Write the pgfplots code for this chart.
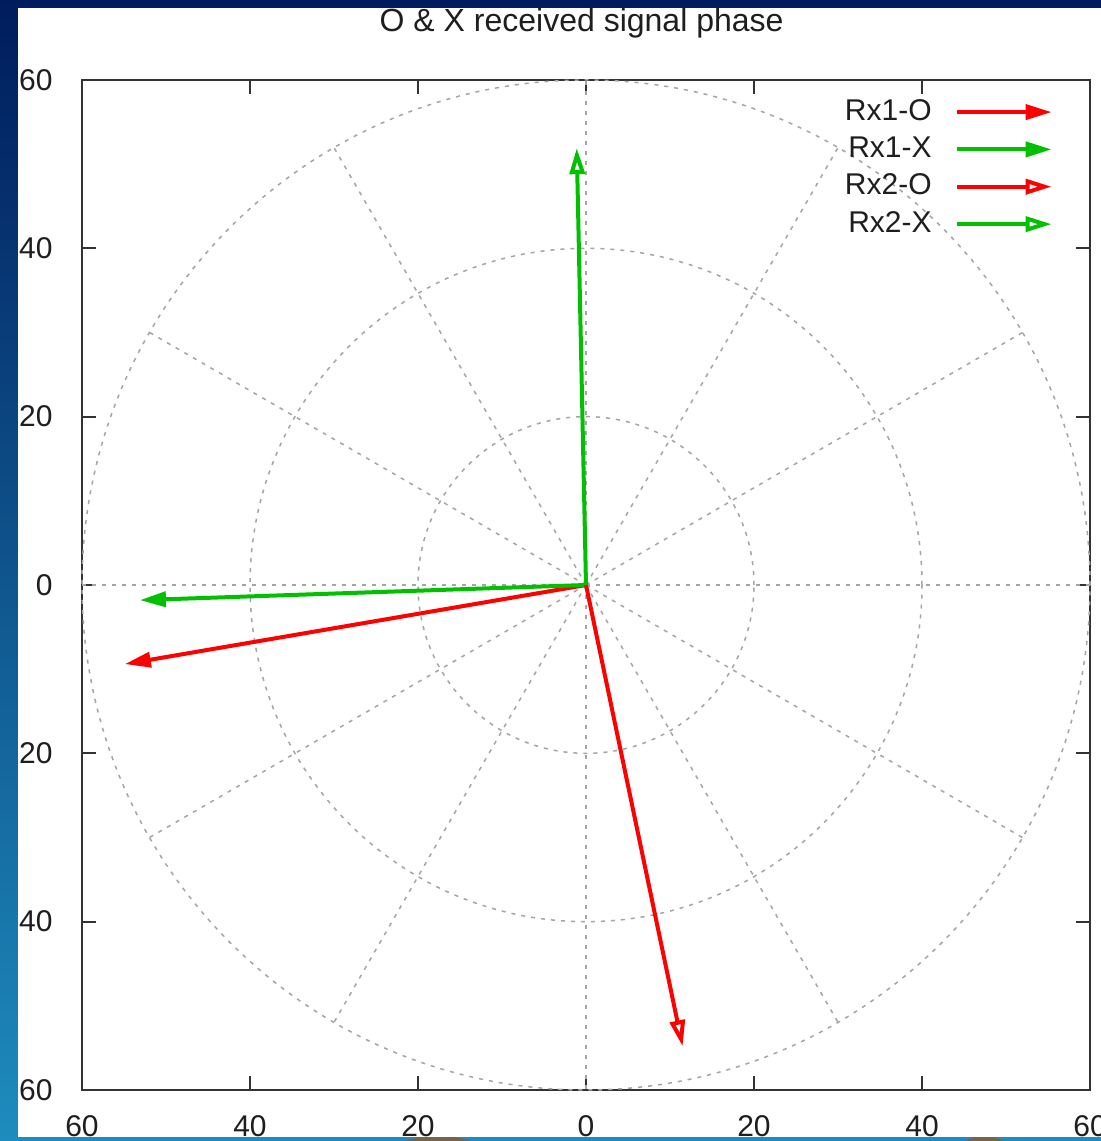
\documentclass[border=0pt]{standalone}
\usepackage{fontspec}
\setmainfont{Liberation Sans}
\usepackage{pgfplots}
\pgfplotsset{compat=1.18}
\usetikzlibrary{arrows.meta}
\definecolor{gpred}{RGB}{255,0,0}
\definecolor{gpgreen}{RGB}{0,192,0}
\definecolor{gridgray}{RGB}{165,165,165}
\definecolor{bgtop}{RGB}{0,28,92}
\definecolor{bgmid}{RGB}{0,52,150}
\definecolor{bgbot}{RGB}{30,140,190}
\definecolor{blob}{RGB}{120,100,70}
\definecolor{txt}{RGB}{30,30,30}
\begin{document}
\fontsize{15pt}{18pt}\selectfont
\begin{tikzpicture}
\useasboundingbox (0,0) rectangle (550.5pt,570.5pt);
\clip (0,0) rectangle (550.5pt,570.5pt);
\shade[top color=bgtop, middle color=bgmid, bottom color=bgbot] (0,0) rectangle (550.5pt,570.5pt);
\fill[bgbot] (0,0) rectangle (550.5pt,2pt);
\fill[blob] (202pt,0pt) -- (210pt,2pt) -- (228pt,2pt) -- (235pt,0pt) -- cycle;
\fill[blob] (482pt,0pt) -- (487pt,2pt) -- (497pt,2pt) -- (502pt,0pt) -- cycle;
\fill[white] (9pt,2pt) rectangle (550.5pt,566.5pt);
\node[anchor=base, inner sep=0pt, txt, font=\fontsize{16pt}{19pt}\selectfont] at (290.8pt,554.5pt) {O \& X received signal phase};
\begin{axis}[
  at={(41pt,25.5pt)}, anchor=south west,
  width=504pt, height=505pt, scale only axis,
  xmin=-60, xmax=60, ymin=-60, ymax=60,
  xtick={-60,-40,-20,0,20,40,60}, ytick={-60,-40,-20,0,20,40,60},
  xticklabels={60,40,20,0,20,40,60}, yticklabels={60,40,20,0,20,40,60},
  /pgf/number format/assume math mode=true,
  tick align=inside, major tick length=7pt,
  axis line style={line width=1pt, black!80},
  every tick/.style={line width=1pt, black!80},
  xticklabel style={anchor=north, inner sep=0pt, yshift=-12.5pt, txt},
  yticklabel style={anchor=east, inner sep=0pt, xshift=-14.5pt, txt},
  clip=false,
  legend style={draw=none, fill=none, at={(1,1)}, anchor=north east,
    xshift=-18pt, yshift=-8.5pt, inner sep=0pt,
    row sep=4pt, column sep=10.5pt, text=txt,
    nodes={inner sep=1pt}},
  legend cell align=right,
  legend plot pos=right,
  legend image code/.code={\draw[#1] (0pt,0pt) -- (47.5pt,0pt);},
]
\pgfplotsinvokeforeach{20,40,60}{
  \draw[gridgray, line width=0.75pt, dash pattern=on 2pt off 3pt] (axis cs:0,0) ellipse [x radius=#1, y radius=#1];
}
\pgfplotsinvokeforeach{0,30,60,90,120,150,180,210,240,270,300,330}{
  \draw[gridgray, line width=0.75pt, dash pattern=on 2pt off 3pt] (axis cs:0,0) -- (axis cs:{60*cos(#1)},{60*sin(#1)});
}
\addplot[gpred, line width=2pt, -{Triangle[length=13pt,width=7.5pt]}] coordinates {(0,0) (-54.9,-9.4)};
\addlegendentry{Rx1-O}
\addplot[gpgreen, line width=2pt, -{Triangle[length=13pt,width=7.5pt]}] coordinates {(0,0) (-53.1,-1.8)};
\addlegendentry{Rx1-X}
\addplot[gpred, line width=2pt, -{Triangle[open,length=13pt,width=7.5pt]}] coordinates {(0,0) (11.5,-54.8)};
\addlegendentry{Rx2-O}
\addplot[gpgreen, line width=2pt, -{Triangle[open,length=13pt,width=7.5pt]}] coordinates {(0,0) (-1.1,51.9)};
\addlegendentry{Rx2-X}
\end{axis}
\end{tikzpicture}
\end{document}
